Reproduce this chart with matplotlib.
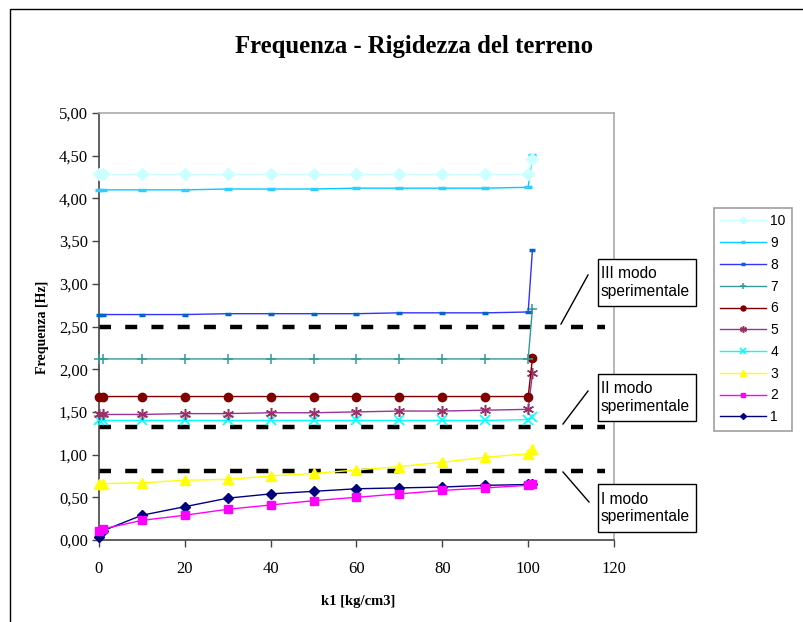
import matplotlib
matplotlib.use("Agg")
import matplotlib.pyplot as plt
from matplotlib.patches import Rectangle
from matplotlib.lines import Line2D

# k1 values [kg/cm3]
k1 = [0, 1, 10, 20, 30, 40, 50, 60, 70, 80, 90, 100, 101]

f1 = [0.03, 0.11, 0.29, 0.39, 0.49, 0.54, 0.57, 0.60, 0.61, 0.62, 0.64, 0.65, 0.66]
f2 = [0.11, 0.13, 0.23, 0.29, 0.36, 0.41, 0.46, 0.50, 0.54, 0.58, 0.61, 0.64, 0.65]
f3 = [0.65, 0.66, 0.67, 0.70, 0.71, 0.75, 0.78, 0.82, 0.86, 0.91, 0.97, 1.01, 1.07]
f4 = [1.40, 1.40, 1.40, 1.40, 1.40, 1.40, 1.40, 1.40, 1.40, 1.40, 1.40, 1.41, 1.44]
f5 = [1.47, 1.47, 1.47, 1.48, 1.48, 1.49, 1.49, 1.50, 1.51, 1.51, 1.52, 1.53, 1.95]
f6 = [1.68, 1.68, 1.68, 1.68, 1.68, 1.68, 1.68, 1.68, 1.68, 1.68, 1.68, 1.68, 2.13]
f7 = [2.12, 2.12, 2.12, 2.12, 2.12, 2.12, 2.12, 2.12, 2.12, 2.12, 2.12, 2.12, 2.71]
f8 = [2.64, 2.64, 2.64, 2.64, 2.65, 2.65, 2.65, 2.65, 2.66, 2.66, 2.66, 2.67, 3.40]
f9 = [4.10, 4.10, 4.10, 4.10, 4.11, 4.11, 4.11, 4.12, 4.12, 4.12, 4.12, 4.13, 4.51]
f10 = [4.28, 4.28, 4.28, 4.28, 4.28, 4.28, 4.28, 4.28, 4.28, 4.28, 4.28, 4.28, 4.46]

labels = ["1", "2", "3", "4", "5", "6", "7", "8", "9", "10"]

# experimental modes
mode_x = [0, 118]
mode_f = [0.81, 1.32, 2.50]
mode_text = ["I modo\nsperimentale", "II modo\nsperimentale", "III modo\nsperimentale"]

styles = [
    dict(color="#000080", marker="D", ms=5, mfc="#000080", mec="#000080"),
    dict(color="#FF00FF", marker="s", ms=6, mfc="#FF00FF", mec="#FF00FF"),
    dict(color="#FFFF00", marker="^", ms=7, mfc="#FFFF00", mec="#FFFF00"),
    dict(color="#00FFFF", marker="x", ms=7, mew=1.2, mec="#00FFFF"),
    dict(color="#993399", marker=(6, 2, 0), ms=8, mew=1.1, mec="#993366"),
    dict(color="#800000", marker="o", ms=6, mfc="#800000", mec="#800000"),
    dict(color="#339999", marker="+", ms=7, mew=1.1, mec="#339999"),
    dict(color="#3333FF", marker="_", ms=5, mew=2.5, mec="#0066CC"),
    dict(color="#00CCFF", marker="_", ms=6, mew=2.5, mec="#33CCFF"),
    dict(color="#CCFFFF", marker="D", ms=6, mfc="#CCFFFF", mec="#CCFFFF"),
]

series = [f1, f2, f3, f4, f5, f6, f7, f8, f9, f10]

W, H = 804, 622
fig = plt.figure(figsize=(W / 100, H / 100), dpi=100)
ax = fig.add_axes([99 / W, 1 - 540 / H, 515 / W, 427 / H])

handles = []
for ys, st, lab in zip(series, styles, labels):
    h, = ax.plot(k1, ys, lw=1.0, clip_on=False, label=lab, zorder=3, **st)
    handles.append(h)

for mf in mode_f:
    ax.plot(mode_x, [mf, mf], color="black", lw=3.2, dashes=(2.7, 3.2),
            solid_capstyle="butt", dash_capstyle="butt", clip_on=False, zorder=2)

ax.set_xlim(0, 120)
ax.set_ylim(0, 5)
ax.set_xticks(range(0, 121, 20))
ax.set_yticks([i * 0.5 for i in range(11)])
ax.set_yticklabels([("%.2f" % (i * 0.5)).replace(".", ",") for i in range(11)])

serif = "Liberation Serif"
sans = "Liberation Sans"
for t in ax.get_xticklabels() + ax.get_yticklabels():
    t.set_fontfamily(serif)
    t.set_fontsize(12)
ax.tick_params(direction="out", length=5, width=1, color="#444444")
ax.tick_params(axis="y", pad=3)
ax.tick_params(axis="x", pad=10)
for s in ["left", "bottom"]:
    ax.spines[s].set_color("#444444")
    ax.spines[s].set_linewidth(1.2)
for s in ["top", "right"]:
    ax.spines[s].set_color("#AAAAAA")
    ax.spines[s].set_linewidth(1.2)

fig.text(414 / W, 1 - 46 / H, "Frequenza - Rigidezza del terreno", ha="center",
         va="center", fontsize=17.8, fontweight="bold", fontfamily=serif)
fig.text(43 / W, 1 - 327 / H, "Frequenza [Hz]", ha="center", va="center",
         rotation=90, fontsize=10, fontweight="bold", fontfamily=serif)
fig.text(358 / W, 1 - 601 / H, "k1 [kg/cm3]", ha="center", va="center",
         fontsize=10.5, fontweight="bold", fontfamily=serif)

# annotation boxes and leader lines (figure pixels)
boxes = [(598, 484, 696, 532), (598, 374, 696, 421), (598, 259, 696, 306)]
leaders = [((563, 472), (589, 502)), ((563, 424), (588, 391)), ((561, 324), (588, 275))]
for txt, (x0, y0, x1, y1), (p0, p1) in zip(mode_text, boxes, leaders):
    fig.patches.append(Rectangle((x0 / W, 1 - y1 / H), (x1 - x0) / W, (y1 - y0) / H,
                                 transform=fig.transFigure, fc="white", ec="black", lw=1))
    fig.text((x0 + 3) / W, 1 - (y0 + y1) / 2 / H, txt, ha="left", va="center",
             fontsize=11.2, fontfamily=sans, linespacing=1.2)
    fig.lines.append(Line2D([p0[0] / W, p1[0] / W], [1 - p0[1] / H, 1 - p1[1] / H],
                            transform=fig.transFigure, color="black", lw=1))

leg = fig.legend(handles[::-1], labels[::-1], loc="upper left",
                 bbox_to_anchor=(714 / W, 1 - 208 / H), frameon=True, fancybox=False,
                 prop={"family": sans, "size": 10}, handlelength=3.3, handletextpad=0.3,
                 labelspacing=0.56, borderpad=0.45, borderaxespad=0, markerscale=0.6)
leg.get_frame().set_edgecolor("#888888")
leg.get_frame().set_linewidth(1.2)

# outer chart border
fig.patches.append(Rectangle((10 / W, -0.1), 1.1, 1 - 9 / H + 0.1,
                             transform=fig.transFigure, fc="none", ec="black", lw=1))

fig.savefig("out.png", dpi=100)
